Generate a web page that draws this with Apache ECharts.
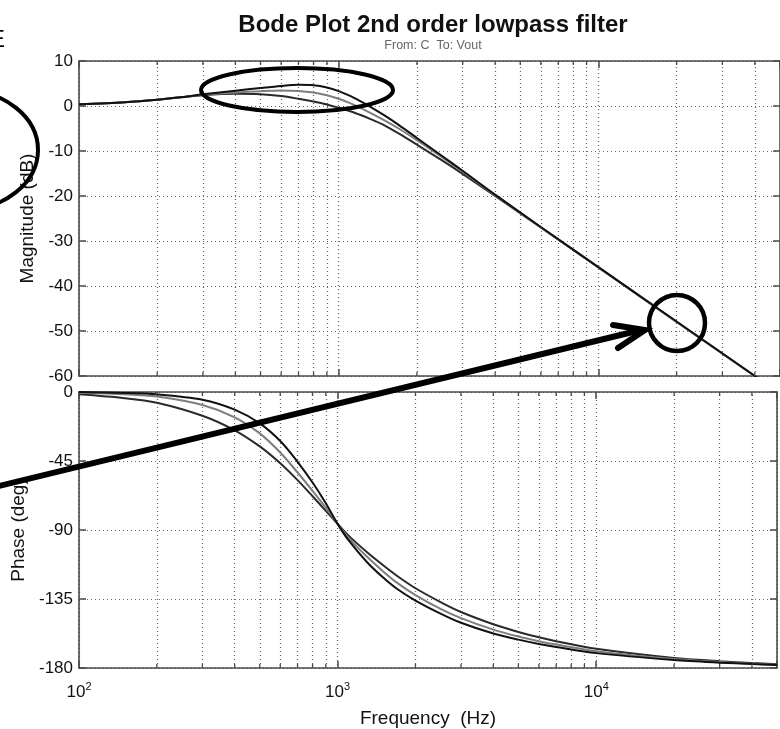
<!DOCTYPE html>
<html><head><meta charset="utf-8">
<script src="https://cdn.jsdelivr.net/npm/echarts@6/dist/echarts.min.js"></script>
<style>html,body{margin:0;padding:0;background:#fff}#c{width:780px;height:729px}</style>
</head><body><div id="c"></div>
<script>
// ---- data ----
const freqMag = [100, 150, 200, 250, 300, 400, 500, 600, 700, 800, 900, 1000, 1100, 1200, 1300, 1500, 1700, 2000, 2500, 3000, 4000, 6000, 10000, 20000, 40000, 50000];
const magHighQ = [0.4, 0.85, 1.4, 2.0, 2.6, 3.4, 4.0, 4.45, 4.7, 4.6, 4.1, 3.3, 2.3, 1.2, 0.1, -2.1, -4.2, -7.1, -11.1, -14.4, -19.7, -26.9, -35.8, -47.9, -60.0, -63.9];
const magMidQ  = [0.4, 0.85, 1.4, 2.0, 2.5, 3.0, 3.3, 3.45, 3.35, 3.0, 2.4, 1.6, 0.7, -0.3, -1.3, -3.2, -5.0, -7.6, -11.4, -14.6, -19.8, -27.0, -35.9, -48.0, -60.0, -63.9];
const magLowQ  = [0.4, 0.85, 1.4, 1.95, 2.4, 2.7, 2.6, 2.2, 1.6, 1.0, 0.35, -0.4, -1.1, -1.9, -2.7, -4.3, -6.1, -8.6, -12.1, -15.1, -20.0, -27.0, -35.9, -48.0, -60.0, -63.9];

const freqPh = [100, 150, 200, 300, 400, 500, 600, 700, 800, 900, 1000, 1100, 1300, 1500, 1700, 2000, 2500, 3000, 4000, 5000, 6000, 7000, 10000, 20000, 30000, 40000, 50000];
const phHighQ = [0, -0.6, -1.5, -5, -11.5, -20.5, -32, -45.5, -59, -72.5, -86, -96.5, -111, -121, -128.5, -136, -144.5, -150.5, -157.5, -161.5, -164.3, -166.3, -170.3, -174.8, -176.5, -177.4, -178];
const phMidQ  = [-0.5, -1.5, -3, -8.5, -16.5, -27, -39.5, -52.5, -64.5, -75.5, -86, -95, -107.5, -117, -124.5, -132.5, -141.5, -147.5, -155, -159.5, -162.5, -164.7, -169, -174.2, -176.1, -177.2, -177.8];
const phLowQ  = [-1.5, -4, -7, -15.5, -25, -35.5, -46.5, -57.5, -68, -77.5, -86, -93.5, -104.5, -113, -120, -128, -137, -143.5, -151.5, -156.5, -160, -162.5, -167.5, -173.5, -175.6, -176.8, -177.5];

const minorGridFreqs = [200, 300, 400, 500, 600, 700, 800, 900, 2000, 3000, 4000, 5000, 6000, 7000, 8000, 9000, 20000, 30000, 40000];
const magTicks = [-60, 10, 10];    // min, max, interval
const phaseTicks = [-180, 0, 45];  // min, max, interval
const freqRange = [100, 50000];

// ---- chart ----
const FONT = 'Liberation Sans, Arial, Helvetica, sans-serif';
const AX = '#4a4a4a';
const GRIDC = '#666';
const pair = (xs, ys) => xs.map((x, i) => [x, ys[i]]);

const chart = echarts.init(document.getElementById('c'), null, {renderer: 'canvas'});

function xAxisDef(grid, pos, labels) {
  return {
    type: 'log', logBase: 10, gridIndex: grid, position: pos,
    min: freqRange[0], max: freqRange[1],
    axisLine: {show: true, onZero: false, lineStyle: {color: AX, width: 1.6}},
    axisTick: {show: true, inside: true, length: 7, lineStyle: {color: AX, width: 1.5}},
    splitLine: {show: pos === 'bottom', lineStyle: {color: GRIDC, type: [1, 3], width: 1.2}},
    axisLabel: labels ? {
      show: true, margin: 13, fontFamily: FONT, color: '#111',
      formatter: function (v) {
        const e = Math.round(Math.log10(v));
        if (Math.abs(Math.pow(10, e) - v) > 1e-6 * v) return '';
        return '{b|10}{s|' + e + '}';
      },
      rich: {b: {fontSize: 17, fontFamily: FONT, color: '#111'}, s: {fontSize: 11, fontFamily: FONT, color: '#111', padding: [0, 0, 11, 0]}}
    } : {show: false},
    name: labels ? 'Frequency  (Hz)' : '', nameLocation: 'middle', nameGap: 41,
    nameTextStyle: {fontSize: 19, fontFamily: FONT, color: '#111'}
  };
}
function yAxisDef(grid, pos, t, name, gap) {
  const left = pos === 'left';
  return {
    type: 'value', gridIndex: grid, position: pos, min: t[0], max: t[1], interval: t[2],
    axisLine: {show: true, onZero: false, lineStyle: {color: AX, width: 1.6}},
    axisTick: {show: true, inside: true, length: 7, lineStyle: {color: AX, width: 1.5}},
    splitLine: {show: left, lineStyle: {color: GRIDC, type: [1, 3], width: 1.2}},
    axisLabel: left ? {show: true, margin: 6, fontSize: 17, fontFamily: FONT, color: '#111'} : {show: false},
    name: left ? name : '', nameLocation: 'middle', nameRotate: 90, nameGap: gap,
    nameTextStyle: {fontSize: 19, fontFamily: FONT, color: '#111'}
  };
}
const minorLines = () => ({
  silent: true, symbol: ['none', 'none'], label: {show: false},
  lineStyle: {color: GRIDC, type: [1, 3], width: 1.2}, emphasis: {disabled: true},
  data: minorGridFreqs.map(f => ({xAxis: f}))
});
function minorTickSeries(xi, yi, t) {
  return {
    type: 'custom', xAxisIndex: xi, yAxisIndex: yi, silent: true, z: 6,
    data: minorGridFreqs.map(f => [f, t[0]]),
    renderItem: function (params, api) {
      const b = api.coord([api.value(0), t[0]]);
      const top = api.coord([api.value(0), t[1]]);
      const st = {stroke: AX, lineWidth: 1.3};
      return {type: 'group', children: [
        {type: 'line', shape: {x1: b[0], y1: b[1], x2: b[0], y2: b[1] - 4}, style: st},
        {type: 'line', shape: {x1: top[0], y1: top[1], x2: top[0], y2: top[1] + 4}, style: st}
      ]};
    }
  };
}
function line(name, data, xi, yi, color, extra) {
  return Object.assign({
    name, type: 'line', data, xAxisIndex: xi, yAxisIndex: yi, showSymbol: false, smooth: 0.3,
    lineStyle: {color, width: 2}, itemStyle: {color}, clip: true, z: 5
  }, extra || {});
}

const option = {
  animation: false,
  backgroundColor: '#fff',
  title: {
    text: 'Bode Plot 2nd order lowpass filter', left: 428, top: 8, textAlign: 'center',
    textStyle: {fontSize: 24, fontWeight: 'bold', fontFamily: FONT, color: '#111'},
    subtext: 'From: C  To: Vout', itemGap: 2,
    subtextStyle: {fontSize: 12.5, fontFamily: FONT, color: '#666'}
  },
  grid: [
    {left: 79, top: 61, width: 702, height: 315, show: false},
    {left: 79, top: 392, width: 702, height: 276, show: false}
  ],
  xAxis: [xAxisDef(0, 'bottom', false), xAxisDef(0, 'top', false), xAxisDef(1, 'bottom', true), xAxisDef(1, 'top', false)],
  yAxis: [yAxisDef(0, 'left', magTicks, 'Magnitude (dB)', 38), yAxisDef(0, 'right', magTicks, '', 0),
          yAxisDef(1, 'left', phaseTicks, 'Phase (deg)', 48), yAxisDef(1, 'right', phaseTicks, '', 0)],
  series: [
    line('mag low Q', pair(freqMag, magLowQ), 0, 0, '#2a2a2a', {markLine: minorLines()}),
    line('mag mid Q', pair(freqMag, magMidQ), 0, 0, '#7d7d7d'),
    line('mag high Q', pair(freqMag, magHighQ), 0, 0, '#111'),
    line('phase low Q', pair(freqPh, phLowQ), 2, 2, '#2a2a2a', {markLine: minorLines()}),
    line('phase mid Q', pair(freqPh, phMidQ), 2, 2, '#7d7d7d'),
    line('phase high Q', pair(freqPh, phHighQ), 2, 2, '#111'),
    minorTickSeries(0, 0, magTicks),
    minorTickSeries(2, 2, phaseTicks)
  ],
  graphic: [
    {type: 'ellipse', z: 100, silent: true, shape: {cx: 297, cy: 90, rx: 96, ry: 22}, style: {fill: 'none', stroke: '#000', lineWidth: 4}},
    {type: 'ellipse', z: 100, silent: true, shape: {cx: -38, cy: 150, rx: 76, ry: 60}, style: {fill: 'none', stroke: '#000', lineWidth: 4}},
    {type: 'circle', z: 100, silent: true, shape: {cx: 677, cy: 323, r: 28}, style: {fill: 'none', stroke: '#000', lineWidth: 4.5}},
    {type: 'polyline', z: 100, silent: true, shape: {points: [[-5, 487], [641, 330]]}, style: {fill: 'none', stroke: '#000', lineWidth: 6}},
    {type: 'polyline', z: 100, silent: true, shape: {points: [[613, 325], [645, 330], [618, 348]]}, style: {fill: 'none', stroke: '#000', lineWidth: 6, lineCap: 'round', lineJoin: 'miter'}},
    {type: 'text', z: 100, silent: true, left: -11, top: 28, style: {text: 'E', fontSize: 24, fontFamily: FONT, fill: '#000'}}
  ]
};
chart.setOption(option);
</script></body></html>
